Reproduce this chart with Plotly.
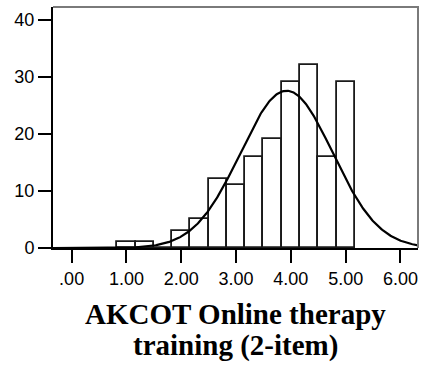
import numpy as np
import plotly.graph_objects as go

# Histogram of the 2-item score: bin centres (width 1/3) and counts
bin_centers = [1.0, 4/3, 5/3, 2.0, 7/3, 8/3, 3.0, 10/3, 11/3, 4.0, 13/3, 14/3, 5.0]
counts = [1, 1, 0, 3, 5, 12, 11, 16, 19, 29, 32, 16, 29]
bin_width = 1/3

x_tickvals = [0, 1, 2, 3, 4, 5, 6]
x_ticktext = [".00", "1.00", "2.00", "3.00", "4.00", "5.00", "6.00"]
y_tickvals = [0, 10, 20, 30, 40]
title_lines = ["AKCOT Online therapy", "training (2-item)"]

# Normal curve fitted to the binned data, scaled to counts
c = np.array(bin_centers)
w = np.array(counts, dtype=float)
n = w.sum()
mean = (c * w).sum() / n
sd = np.sqrt(((c - mean) ** 2 * w).sum() / (n - 1))
xs = np.linspace(-0.34, 6.32, 400)
ys = n * bin_width / (sd * np.sqrt(2 * np.pi)) * np.exp(-0.5 * ((xs - mean) / sd) ** 2)

fig = go.Figure()
fig.add_trace(go.Bar(
    x=bin_centers, y=counts, width=bin_width,
    marker=dict(color="white", line=dict(color="#1a1a1a", width=1.8)),
    hoverinfo="skip",
))
fig.add_trace(go.Scatter(
    x=xs, y=ys, mode="lines",
    line=dict(color="black", width=2.2), hoverinfo="skip",
))

tick_font = dict(family="Liberation Sans, Arial, sans-serif", size=18, color="black")

fig.update_layout(
    width=425, height=372,
    margin=dict(l=53, r=7, t=7, b=124),
    paper_bgcolor="white", plot_bgcolor="white",
    showlegend=False,
    bargap=0,
    xaxis=dict(
        range=[-0.34, 6.32], tickvals=x_tickvals, ticktext=x_ticktext,
        ticks="outside", ticklen=13, tickwidth=2, tickcolor="black",
        showline=True, linecolor="black", linewidth=2,
        showgrid=False, zeroline=False, tickfont=tick_font,
        ticklabelstandoff=0, fixedrange=True,
    ),
    yaxis=dict(
        range=[0, 42.2], tickvals=y_tickvals,
        ticks="outside", ticklen=13, tickwidth=2, tickcolor="black",
        showline=True, linecolor="black", linewidth=2,
        showgrid=False, zeroline=False, tickfont=tick_font,
        ticklabelstandoff=0, fixedrange=True,
    ),
    shapes=[dict(
        type="path", xref="paper", yref="paper",
        path="M 0 1 L 1 1 L 1 0",
        line=dict(color="#7a7a7a", width=2), layer="above",
    )],
)

title_font = dict(family="Liberation Serif, Times New Roman, serif", size=29,
                  color="black", weight="bold")
for i, line in enumerate(title_lines):
    fig.add_annotation(
        text=line, xref="paper", yref="paper",
        x=0.5, y=-(66 + 31 * i) / 241, xanchor="center", yanchor="middle",
        showarrow=False, font=title_font,
    )

fig.write_html("out.html")
